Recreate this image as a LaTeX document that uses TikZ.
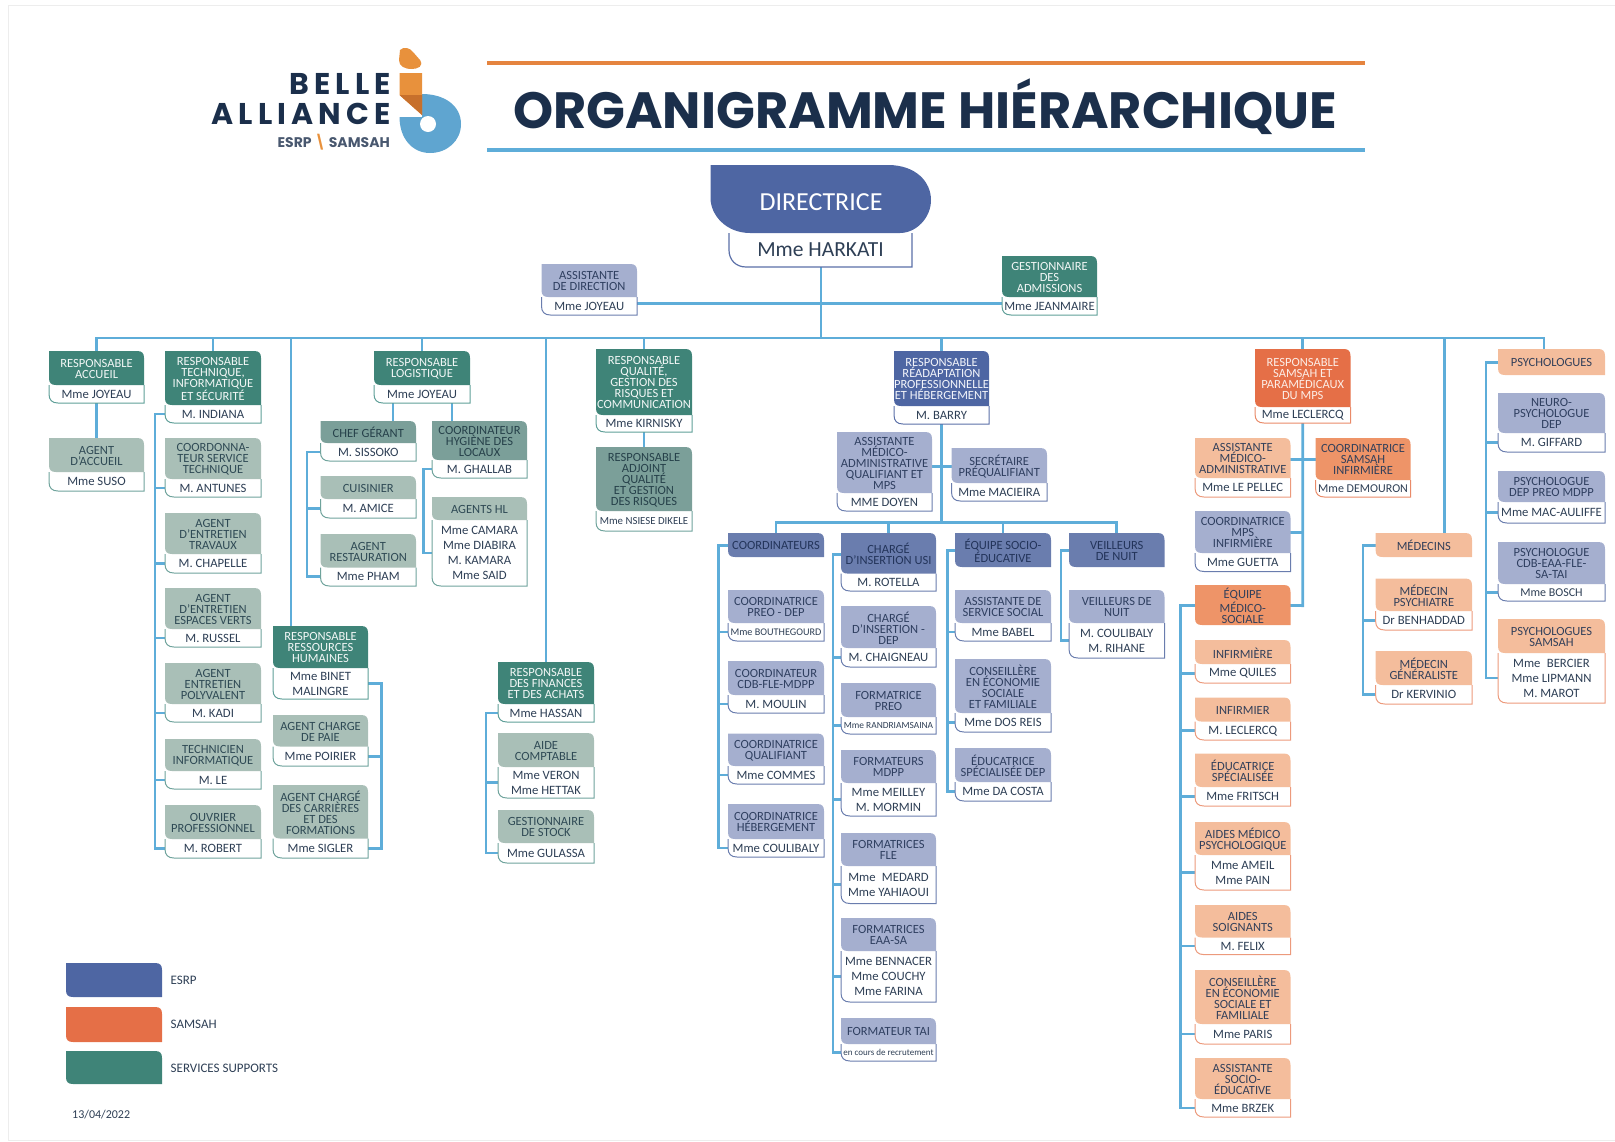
\documentclass[tikz,border=0pt]{standalone}
\usepackage{fontspec}
\setmainfont{Carlito}
\newfontfamily\titlefont{Poppins}[BoldFont=Poppins Bold]
\newfontfamily\logofont{Poppins}[BoldFont=Poppins Bold,LetterSpace=17]
\usetikzlibrary{backgrounds}
\definecolor{gDfill}{HTML}{3F8478}\definecolor{gDtext}{HTML}{F2F7F6}\definecolor{gDline}{HTML}{5F9F98}
\definecolor{gMfill}{HTML}{7B9F99}\definecolor{gMtext}{HTML}{26414A}\definecolor{gMline}{HTML}{6FA39C}
\definecolor{gLfill}{HTML}{A9BFB7}\definecolor{gLtext}{HTML}{2F4A55}\definecolor{gLline}{HTML}{6FA39C}
\definecolor{bDfill}{HTML}{4E66A3}\definecolor{bDtext}{HTML}{F2F4FA}\definecolor{bDline}{HTML}{5B70A8}
\definecolor{bMfill}{HTML}{6A7DAE}\definecolor{bMtext}{HTML}{23345A}\definecolor{bMline}{HTML}{6A7DAE}
\definecolor{bLfill}{HTML}{A5AFCF}\definecolor{bLtext}{HTML}{2F3F60}\definecolor{bLline}{HTML}{6A7DAE}
\definecolor{oDfill}{HTML}{E56F47}\definecolor{oDtext}{HTML}{FCEDE6}\definecolor{oDline}{HTML}{E98A68}
\definecolor{oMfill}{HTML}{EE9468}\definecolor{oMtext}{HTML}{33405A}\definecolor{oMline}{HTML}{E98A68}
\definecolor{oLfill}{HTML}{F4BD9C}\definecolor{oLtext}{HTML}{33405A}\definecolor{oLline}{HTML}{EC9A7C}
\definecolor{navy}{HTML}{1B2F4B}
\definecolor{bodyink}{HTML}{2E3F55}
\definecolor{linkblue}{HTML}{5EADD9}
\definecolor{logoblue}{HTML}{5FA5D0}
\definecolor{logoorange}{HTML}{E8913C}
\definecolor{ruleorange}{HTML}{E5843F}
\definecolor{logodark}{HTML}{C7702C}
\tikzset{
  conn/.style={draw=linkblue,line width=2.8pt,line cap=rect},
  headnode/.style={inner sep=0pt,outer sep=0pt,align=center,yshift=-0.8pt,font=\fontsize{12.5}{11}\selectfont},
  bodynode/.style={inner sep=0pt,outer sep=0pt,align=center,text=bodyink,font=\fontsize{12.7}{15}\selectfont},
  legendtext/.style={inner sep=0pt,anchor=west,text=bodyink,font=\fontsize{13}{13}\selectfont},
}
\newcommand\smt[2]{{\fontsize{#1}{#1}\selectfont #2}}
% name xl yt xr ymid ybot key head body
\newcommand\card[9]{%
  \fill[white] (#2,#5) rectangle (#4,#6);
  \fill[#7fill] (#2,#3) -- ({#4-7},#3) .. controls ({#4-2},#3) and (#4,{#3+2}) .. (#4,{#3+7}) -- (#4,#5) -- ({#2+7},#5) .. controls ({#2+2},#5) and (#2,{#5-2}) .. (#2,{#5-7}) -- cycle;
  \draw[#7line,line width=1pt] (#2,#5) -- (#2,{#6-9}) .. controls (#2,{#6-3}) and ({#2+3},#6) .. ({#2+9},#6) -- (#4,#6) -- (#4,#5);
  \node[headnode,text=#7text,minimum width={(#4-#2)*1pt},minimum height={(#5-#3)*1pt}] (#1h) at ({(#2+#4)/2},{(#3+#5)/2}) {#8};
  \node[bodynode,minimum width={(#4-#2)*1pt},minimum height={(#6-#5)*1pt}] (#1) at ({(#2+#4)/2},{(#5+#6)/2}) {#9};
}
% name xl yt xr ybot key head
\newcommand\hcard[7]{%
  \fill[#6fill] (#2,#3) -- ({#4-7},#3) .. controls ({#4-2},#3) and (#4,{#3+2}) .. (#4,{#3+7}) -- (#4,#5) -- ({#2+7},#5) .. controls ({#2+2},#5) and (#2,{#5-2}) .. (#2,{#5-7}) -- cycle;
  \node[headnode,text=#6text,minimum width={(#4-#2)*1pt},minimum height={(#5-#3)*1pt}] (#1h) at ({(#2+#4)/2},{(#3+#5)/2}) {#7};
}
% trunk x coordinate name, first, last, list of anchors
\newcommand\bus[4]{%
  \draw[conn] (#2 -| #1) -- (#3 -| #1);
  \foreach \n in {#4} {\draw[conn] (\n) -- (\n -| #1);}
}
\begin{document}
\begin{tikzpicture}[x=1pt,y=-1pt]
\useasboundingbox (0,0) rectangle (1615,1141);
\draw[black!7,line width=1pt] (8,1140) -- (8,5) -- (1615,5);
\draw[black!7,line width=1pt] (8,1140) -- (1615,1140);

% header
\draw[draw=ruleorange,line width=4pt] (487,63) -- (1364.5,63);
\draw[draw=linkblue,line width=3.5pt] (487,150) -- (1364.5,150);
\node[inner sep=0pt,anchor=base west,text=navy,font=\titlefont\bfseries\fontsize{51}{51}\selectfont] (title) at (513,128) {ORGANIGRAMME HIÉRARCHIQUE};
% logo
\node[inner sep=0pt,anchor=base east,text=navy,font=\logofont\bfseries\fontsize{30}{30}\selectfont] (logoa) at (391,94) {BELLE};
\node[inner sep=0pt,anchor=base east,text=navy,font=\logofont\bfseries\fontsize{30}{30}\selectfont] (logob) at (391,124) {ALLIANCE};
\node[inner sep=0pt,anchor=base east,text=navy!80,font=\titlefont\bfseries\fontsize{14}{14}\selectfont] (logoc) at (390,147) {ESRP {\color{logoorange}\textbackslash} SAMSAH};
\fill[logoblue] (422,94) .. controls (445,94) and (461,106) .. (461,124) .. controls (461,141) and (447,153) .. (430,153) .. controls (412,153) and (399.5,138) .. (399.5,117) -- (422,117) -- cycle;
\fill[white] (428,124) circle (8);
\fill[logoorange] (399.5,73) -- (422,73) -- (422,115) -- (399.5,95) -- cycle;
\fill[logodark] (399.5,95) -- (422,95) -- (422,115) -- cycle;
\fill[logoorange] (400,50) .. controls (404,46) and (410,48) .. (413,52) -- (420,60) .. controls (424,66) and (418,69) .. (412,69) .. controls (404,69) and (399,66) .. (399,60) -- cycle;

% directrice
\fill[white] (729,233) rectangle (912,267);
\draw[bDline,line width=1.2pt] (729,233) -- (729,250) .. controls (729,260) and (736,267) .. (746,267) -- (912,267) -- (912,233);
\fill[bDfill] (710.5,165) -- (888,165) .. controls (916,165) and (931,182) .. (931,200) .. controls (931,218) and (916,233) .. (900,233) -- (750,233) .. controls (726,233) and (710.5,215) .. (710.5,198) -- cycle;
\node[headnode,text=white,font=\fontsize{26}{26}\selectfont] (dirh) at (821,201) {DIRECTRICE};
\node[bodynode,font=\fontsize{21.5}{21.5}\selectfont,minimum width=183pt,minimum height=34pt] (dir) at (820.5,250) {Mme HARKATI};

\card{asd}{541.5}{264}{637}{297}{315}{bL}{ASSISTANTE\\DE DIRECTION}{Mme JOYEAU}
\card{gest}{1002}{256}{1097}{297}{315}{gD}{GESTIONNAIRE\\DES\\ADMISSIONS}{Mme JEANMAIRE}

% services supports
\card{acc}{49}{351}{144}{385}{403}{gD}{RESPONSABLE\\ACCUEIL}{Mme JOYEAU}
\card{agacc}{49}{438}{144}{472}{491}{gL}{AGENT\\D'ACCUEIL}{Mme SUSO}
\card{tech}{165}{351}{261}{405}{423}{gD}{RESPONSABLE\\TECHNIQUE,\\INFORMATIQUE\\ET SÉCURITÉ}{M. INDIANA}
\card{coordt}{165}{438}{261}{479}{497}{gL}{COORDONNA-\\TEUR SERVICE\\TECHNIQUE}{M. ANTUNES}
\card{trav}{165}{513}{261}{554}{573}{gL}{AGENT\\D'ENTRETIEN\\TRAVAUX}{M. CHAPELLE}
\card{verts}{165}{588}{261}{629}{647}{gL}{AGENT\\D'ENTRETIEN\\ESPACES VERTS}{M. RUSSEL}
\card{poly}{165}{663}{261}{704}{722}{gL}{AGENT\\ENTRETIEN\\POLYVALENT}{M. KADI}
\card{tinf}{165}{739}{261}{771}{789}{gL}{TECHNICIEN\\INFORMATIQUE}{M. LE}
\card{ouv}{165}{805}{261}{839}{858}{gL}{OUVRIER\\PROFESSIONNEL}{M. ROBERT}
\card{rh}{273}{626}{368}{668}{699}{gD}{RESPONSABLE\\RESSOURCES\\HUMAINES}{Mme BINET\\MALINGRE}
\card{paie}{273}{715}{368}{746.5}{766}{gL}{AGENT CHARGE\\DE PAIE}{Mme POIRIER}
\card{carr}{273}{785}{368}{838.5}{858}{gL}{AGENT CHARGÉ\\DES CARRIÈRES\\ET DES\\FORMATIONS}{Mme SIGLER}
\card{logi}{374}{351}{470}{385}{403}{gD}{RESPONSABLE\\LOGISTIQUE}{Mme JOYEAU}
\card{chef}{320.5}{421}{416}{443}{461}{gM}{CHEF GÉRANT}{M. SISSOKO}
\card{cuis}{320.5}{476}{416}{499}{518}{gL}{CUISINIER}{M. AMICE}
\card{rest}{320.5}{534}{416}{567.5}{586}{gL}{AGENT\\RESTAURATION}{Mme PHAM}
\card{hyg}{432}{421}{527}{460}{478}{gM}{COORDINATEUR\\HYGIÈNE DES\\LOCAUX}{M. GHALLAB}
\card{hl}{432}{497}{527}{520}{586}{gL}{AGENTS HL}{Mme CAMARA\\Mme DIABIRA\\M. KAMARA\\Mme SAID}
\card{fin}{498}{662}{594}{704}{722}{gD}{RESPONSABLE\\DES FINANCES\\ET DES ACHATS}{Mme HASSAN}
\card{compt}{498}{733}{594}{767}{798}{gL}{AIDE\\COMPTABLE}{Mme VERON\\Mme HETTAK}
\card{stock}{498}{810}{594}{843}{863}{gL}{GESTIONNAIRE\\DE STOCK}{Mme GULASSA}
\card{qual}{596}{349}{692}{415}{432}{gD}{RESPONSABLE\\QUALITÉ,\\GESTION DES\\RISQUES ET\\COMMUNICATION}{Mme KIRNISKY}
\card{adj}{596}{447}{692}{511}{531}{gM}{RESPONSABLE\\ADJOINT\\QUALITÉ\\ET GESTION\\DES RISQUES}{\smt{10.8}{Mme NSIESE DIKELE}}

% ESRP
\card{read}{894}{351}{989}{406}{424}{bD}{RESPONSABLE\\RÉADAPTATION\\PROFESSIONNELLE\\ET HÉBERGEMENT}{M. BARRY}
\card{amq}{837}{432}{932}{493}{511}{bL}{ASSISTANTE\\MÉDICO-\\ADMINISTRATIVE\\QUALIFIANT ET\\MPS}{MME DOYEN}
\card{sec}{951.5}{448}{1047}{483}{501}{bL}{SECRÉTAIRE\\PRÉQUALIFIANT}{Mme MACIEIRA}
\hcard{coords}{728}{533}{824}{557}{bM}{COORDINATEURS}
\card{preo}{728}{590}{824}{623}{641}{bL}{COORDINATRICE\\PREO - DEP}{\smt{10.2}{Mme BOUTHEGOURD}}
\card{cdb}{728}{661}{824}{695}{713}{bL}{COORDINATEUR\\CDB-FLE-MDPP}{M. MOULIN}
\card{cql}{728}{733.5}{824}{766}{784}{bL}{COORDINATRICE\\QUALIFIANT}{Mme COMMES}
\card{cheb}{728}{804}{824}{839}{857}{bL}{COORDINATRICE\\HÉBERGEMENT}{Mme COULIBALY}
\card{usi}{841}{533}{936}{573.6}{591}{bM}{CHARGÉ\\D'INSERTION USI}{M. ROTELLA}
\card{idep}{841}{606}{936}{648}{667}{bL}{CHARGÉ\\D'INSERTION -\\DEP}{M. CHAIGNEAU}
\card{fpreo}{841}{683}{936}{717}{734}{bL}{FORMATRICE\\PREO}{\smt{9.4}{Mme RANDRIAMSAINA}}
\card{fmdpp}{841}{750}{936}{783}{816}{bL}{FORMATEURS\\MDPP}{Mme MEILLEY\\M. MORMIN}
\card{ffle}{841}{833}{936}{866}{903.5}{bL}{FORMATRICES\\FLE}{Mme\enspace MEDARD\\Mme YAHIAOUI}
\card{feaa}{841}{918}{936}{951}{1002}{bL}{FORMATRICES\\EAA-SA}{Mme BENNACER\\Mme COUCHY\\Mme FARINA}
\card{ftai}{841}{1018}{936}{1044}{1061}{bL}{FORMATEUR TAI}{\smt{9}{en cours de recrutement}}
\hcard{socio}{955}{533}{1051}{567}{bM}{ÉQUIPE SOCIO-\\ÉDUCATIVE}
\card{ss}{955}{590}{1051}{623}{641}{bL}{ASSISTANTE DE\\SERVICE SOCIAL}{Mme BABEL}
\card{cesf}{955}{659}{1051}{713}{732}{bL}{CONSEILLÈRE\\EN ÉCONOMIE\\SOCIALE\\ET FAMILIALE}{Mme DOS REIS}
\card{edu}{955}{748}{1051}{782}{801}{bL}{ÉDUCATRICE\\SPÉCIALISÉE DEP}{Mme DA COSTA}
\hcard{veil}{1069}{533}{1164.5}{567}{bM}{VEILLEURS\\DE NUIT}
\card{vn}{1069}{590}{1164.5}{623}{658}{bL}{VEILLEURS DE\\NUIT}{M. COULIBALY\\M. RIHANE}

% SAMSAH
\card{sam}{1255}{349}{1350.5}{407}{423}{oD}{RESPONSABLE\\SAMSAH ET\\PARAMÉDICAUX\\DU MPS}{Mme LECLERCQ}
\card{ama}{1195}{438}{1290.5}{478}{497}{oL}{ASSISTANTE\\MÉDICO-\\ADMINISTRATIVE}{Mme LE PELLEC}
\card{csi}{1315.5}{438}{1410.6}{480}{497}{oM}{COORDINATRICE\\SAMSAH\\INFIRMIÈRE}{\smt{12}{Mme DEMOURON}}
\card{mps}{1195}{511}{1290.5}{553}{571.5}{bL}{COORDINATRICE\\MPS\\INFIRMIÈRE}{Mme GUETTA}
\hcard{eqm}{1195}{585}{1290.5}{625}{oM}{ÉQUIPE\\MÉDICO-\\SOCIALE}
\card{inf}{1195}{640}{1290.5}{664}{683}{oL}{INFIRMIÈRE}{Mme QUILES}
\card{infm}{1195}{697.5}{1290.5}{721.6}{740}{oL}{INFIRMIER}{M. LECLERCQ}
\card{edus}{1195}{753.5}{1290.5}{787}{806}{oL}{ÉDUCATRICE\\SPÉCIALISÉE}{Mme FRITSCH}
\card{amp}{1195}{822}{1290.5}{855}{890}{oL}{AIDES MÉDICO\\PSYCHOLOGIQUE}{Mme AMEIL\\Mme PAIN}
\card{as}{1195}{905}{1290.5}{937.5}{954.6}{oL}{AIDES\\SOIGNANTS}{M. FELIX}
\card{cesfs}{1195}{970}{1290.5}{1024}{1044}{oL}{CONSEILLÈRE\\EN ÉCONOMIE\\SOCIALE ET\\FAMILIALE}{Mme PARIS}
\card{ase}{1195}{1058}{1290.5}{1099}{1117}{oL}{ASSISTANTE\\SOCIO-\\ÉDUCATIVE}{Mme BRZEK}
\hcard{med}{1375.6}{533}{1472}{557}{oL}{MÉDECINS}
\card{mpsy}{1375.6}{578.5}{1472}{611}{630}{oL}{MÉDECIN\\PSYCHIATRE}{Dr BENHADDAD}
\card{mgen}{1375.6}{651}{1472}{685}{704}{oL}{MÉDECIN\\GÉNÉRALISTE}{Dr KERVINIO}
\hcard{psy}{1498}{349}{1605}{375}{oL}{PSYCHOLOGUES}
\card{neuro}{1498}{393}{1605}{433}{452}{bL}{NEURO-\\PSYCHOLOGUE\\DEP}{M. GIFFARD}
\card{psyd}{1498}{471}{1605}{502}{523}{bL}{PSYCHOLOGUE\\DEP PREO MDPP}{Mme MAC-AULIFFE}
\card{psyc}{1498}{542}{1605}{584}{601}{bL}{PSYCHOLOGUE\\CDB-EAA-FLE-\\SA-TAI}{\smt{12}{Mme BOSCH}}
\card{psys}{1498}{619}{1605}{653}{703}{oL}{PSYCHOLOGUES\\SAMSAH}{Mme\enspace BERCIER\\Mme LIPMANN\\M. MAROT}

% legend
\hcard{lga}{66}{963}{162}{997}{bD}{}
\hcard{lgb}{66}{1007}{162}{1042}{oD}{}
\hcard{lgc}{66}{1051}{162}{1084}{gD}{}
\node[legendtext] (lta) at (170.5,980) {ESRP};
\node[legendtext] (ltb) at (170.5,1024) {SAMSAH};
\node[legendtext] (ltc) at (170.5,1068) {SERVICES SUPPORTS};
\node[legendtext,font=\fontsize{12}{12}\selectfont] (ltd) at (72,1115) {13/04/2022};

\begin{scope}[on background layer]
  % named routing points
  \coordinate (bar) at (821,338);
  \coordinate (bar2) at (941.5,522.5);
  \coordinate (adm) at (821,303);
  \coordinate (dacc) at (97,338);
  \coordinate (drh) at (291,338);
  \coordinate (dmed) at (1444.5,338);
  \coordinate (dpsy) at (1544,338);
  \coordinate (lg1) at (393,0);
  \coordinate (lg2) at (452,0);
  \coordinate (tTech) at (155,0);
  \coordinate (tChef) at (307,0);
  \coordinate (tHyg) at (423.7,0);
  \coordinate (tRh) at (381.7,0);
  \coordinate (tFin) at (486,0);
  \coordinate (tCoord) at (718.7,0);
  \coordinate (tUsi) at (833,0);
  \coordinate (tSoc) at (947.4,0);
  \coordinate (tVeil) at (1061,0);
  \coordinate (tEq) at (1180.8,0);
  \coordinate (tMed) at (1363,0);
  \coordinate (tPsy) at (1486,0);
  \coordinate (tSam) at (1302.7,0);
  % top
  \draw[conn,line width=2pt] (dir.south) -- (dir.south |- bar);
  \draw[conn,line width=3pt] (adm -| asd.east) -- (adm -| gest.west);
  \draw[conn] (bar -| dacc) -- (bar -| dpsy);
  \draw[conn] (acch.north) -- (acch.north |- bar);
  \draw[conn] (techh.north) -- (techh.north |- bar);
  \draw[conn] (drh) -- (drh |- rhh.north);
  \draw[conn] (logih.north) -- (logih.north |- bar);
  \draw[conn] (finh.north) -- (finh.north |- bar);
  \draw[conn] (qualh.north) -- (qualh.north |- bar);
  \draw[conn] (readh.north) -- (readh.north |- bar);
  \draw[conn] (samh.north) -- (samh.north |- bar);
  \draw[conn] (dmed) -- (dmed |- medh.north);
  \draw[conn] (dpsy) -- (dpsy |- psyh.north);
  % simple links
  \draw[conn] (acc.south) -- (agacch.north);
  \draw[conn] (qual.south) -- (adjh.north);
  \draw[conn] (lg1 |- logi.south) -- (lg1 |- chefh.north);
  \draw[conn] (lg2 |- logi.south) -- (lg2 |- hygh.north);
  % buses
  \bus{tTech}{tech.west}{ouv.west}{tech.west,coordt.west,trav.west,verts.west,poly.west,tinf.west,ouv.west}
  \bus{tChef}{chef.west}{rest.west}{chef.west,cuis.west,rest.west}
  \bus{tHyg}{hyg.west}{hl.west}{hyg.west,hl.west}
  \bus{tRh}{rh.east}{carr.east}{rh.east,paie.east,carr.east}
  \bus{tFin}{fin.west}{stock.west}{fin.west,compt.west,stock.west}
  \draw[conn] (read.south) -- (read.south |- bar2);
  \draw[conn] (sech.west) -- (sech.west -| amqh.east);
  \draw[conn] (bar2 -| coordsh.north) -- (bar2 -| veilh.north);
  \foreach \n in {coordsh,usih,socioh,veilh} {\draw[conn] (\n.north) -- (\n.north |- bar2);}
  \bus{tCoord}{coordsh.west}{cheb.west}{coordsh.west,preo.west,cdb.west,cql.west,cheb.west}
  \bus{tUsi}{usih.west}{ftai.west}{usih.west,idep.west,fpreo.west,fmdpp.west,ffle.west,feaa.west,ftai.west}
  \bus{tSoc}{socioh.west}{edu.west}{socioh.west,ss.west,cesf.west,edu.west}
  \bus{tVeil}{veilh.west}{vn.west}{veilh.west,vn.west}
  \draw[conn] (sam.south) -- (tSam |- eqmh.east);
  \draw[conn] (csih.west) -- (csih.west -| amah.east);
  \draw[conn] (mpsh.east) -- (mpsh.east -| tSam);
  \draw[conn] (eqmh.east) -- (eqmh.east -| tSam);
  \bus{tEq}{eqmh.west}{ase.west}{eqmh.west,inf.west,infm.west,edus.west,amp.west,as.west,cesfs.west,ase.west}
  \bus{tMed}{medh.west}{mgen.west}{medh.west,mpsy.west,mgen.west}
  \bus{tPsy}{psyh.west}{psys.west}{psyh.west,neuro.west,psyd.west,psyc.west,psys.west}
\end{scope}
\end{tikzpicture}
\end{document}
